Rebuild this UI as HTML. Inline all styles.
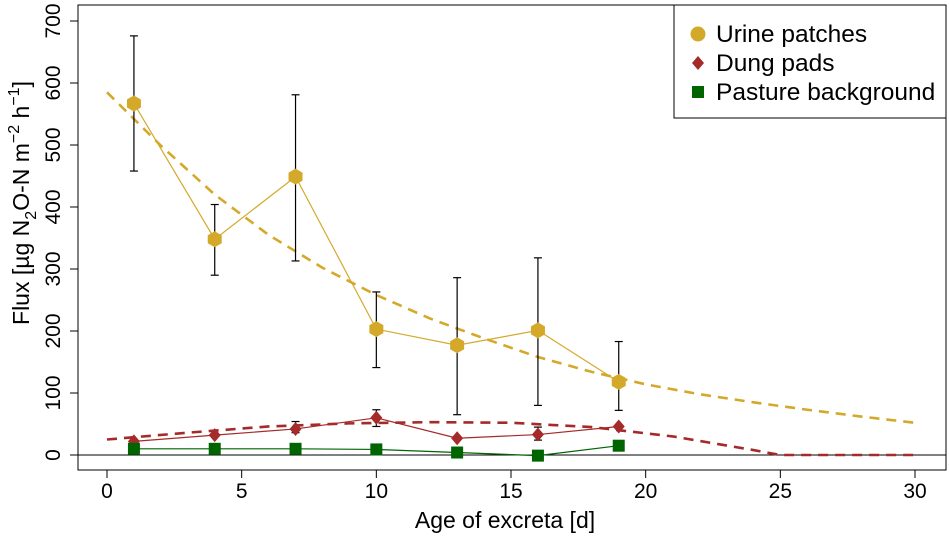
<!DOCTYPE html>
<html><head><meta charset="utf-8"><style>
html,body{margin:0;padding:0;background:#fff;}
svg text{font-family:"Liberation Sans",sans-serif;}
</style></head><body>
<svg id="chart" width="949" height="537" viewBox="0 0 949 537" xmlns="http://www.w3.org/2000/svg"></svg>
<script>
const days=[1,4,7,10,13,16,19];
const urine=[567,348,449,203,177,201,118];
const urineLo=[458,290,313,141,65,80,72];
const urineHi=[676,404,581,263,286,318,183];
const dung=[22,32,42,60,27,33,46];
const dungLo=[null,null,36,46,null,24,null];
const dungHi=[null,null,54,73,null,45,null];
const pasture=[10,10,10,9,4,-1,15];
const fitX=[0,2,4,6,8,10,12,14,16,18,20,22,24,26,28,30];
const urineFit=[585,499,420,355,302,258,220,188,158,134,114,98,85,73,62,52];
const dungFitX=[0,3,6,9,12,15,18,21,24,25,27,30];
const dungFit=[25,36,46,51,53,52,45,30,8,0,0,0];
const xTicks=[0,5,10,15,20,25,30];
const yTicks=[0,100,200,300,400,500,600,700];

const svg=document.getElementById('chart');
const NS='http://www.w3.org/2000/svg';
const X=v=>107+v*(915-107)/30;
const Y=v=>455-v*0.62;
function mk(tag,attrs,parent){const e=document.createElementNS(NS,tag);for(const k in attrs)e.setAttribute(k,attrs[k]);(parent||svg).appendChild(e);return e;}

let e=mk('rect',{x:78,y:5,width:868,height:465,fill:'none',stroke:'#000','stroke-width':1});


e=mk('line',{x1:78,x2:946,y1:Y(0),y2:Y(0),stroke:'#000','stroke-width':1});



const xg=mk('g',{});


xTicks.forEach(t=>{
  mk('line',{x1:X(t),x2:X(t),y1:470,y2:478,stroke:'#000'},xg);
  const tx=mk('text',{x:X(t),y:498,'font-size':21,'text-anchor':'middle'},xg);tx.textContent=t;
  
  
});
const yg=mk('g',{});


yTicks.forEach(t=>{
  mk('line',{x1:70,x2:78,y1:Y(t),y2:Y(t),stroke:'#000'},yg);
  const tx=mk('text',{x:0,y:0,'font-size':21,'text-anchor':'middle',transform:`translate(60,${Y(t)}) rotate(-90)`},yg);tx.textContent=t;
  
  
});
e=mk('text',{x:505,y:528,'font-size':23,'text-anchor':'middle'});e.textContent='Age of excreta [d]';


e=mk('text',{x:0,y:0,'font-size':23,'text-anchor':'middle',transform:'translate(29,203) rotate(-90)'});
e.innerHTML='Flux [µg N<tspan dy="7" font-size="16">2</tspan><tspan dy="-7">O-N m</tspan><tspan dy="-10" font-size="16">−2</tspan><tspan dy="10"> h</tspan><tspan dy="-10" font-size="16">−1</tspan><tspan dy="10">]</tspan>';



function poly(xs,ys,col,w,dash,name){
  const p=mk('polyline',{points:xs.map((x,i)=>X(x)+','+Y(ys[i])).join(' '),fill:'none',stroke:col,'stroke-width':w});
  if(dash)p.setAttribute('stroke-dasharray',dash);
  
  
}
poly(fitX,urineFit,'#d4a92a',2.6,'10,7','urine-fit-line');
poly(dungFitX,dungFit,'#a52a2a',2.6,'10,7','dung-fit-line');
poly(days,urine,'#d4a92a',1.2,null,'urine-line');
poly(days,dung,'#a52a2a',1.2,null,'dung-line');
poly(days,pasture,'#006400',1.2,null,'pasture-line');

function err(lo,hi,name){
  days.forEach((d,i)=>{
    if(lo[i]==null)return;
    const g=mk('g',{stroke:'#000','stroke-width':1.2});
    
    
    mk('line',{x1:X(d),x2:X(d),y1:Y(lo[i]),y2:Y(hi[i])},g);
    mk('line',{x1:X(d)-4,x2:X(d)+4,y1:Y(lo[i]),y2:Y(lo[i])},g);
    mk('line',{x1:X(d)-4,x2:X(d)+4,y1:Y(hi[i]),y2:Y(hi[i])},g);
  });
}
err(urineLo,urineHi,'urine-error-bar');
err(dungLo,dungHi,'dung-error-bar');

days.forEach((d,i)=>{
  let m=mk('polygon',{points:`${X(d)},${Y(urine[i])-8} ${X(d)+7},${Y(urine[i])-4} ${X(d)+7},${Y(urine[i])+4} ${X(d)},${Y(urine[i])+8} ${X(d)-7},${Y(urine[i])+4} ${X(d)-7},${Y(urine[i])-4}`,fill:'#d4a92a'});
  
  
  m=mk('polygon',{points:`${X(d)},${Y(dung[i])-7} ${X(d)+6},${Y(dung[i])} ${X(d)},${Y(dung[i])+7} ${X(d)-6},${Y(dung[i])}`,fill:'#a52a2a'});
  
  
  m=mk('rect',{x:X(d)-6,y:Y(pasture[i])-6,width:12,height:12,fill:'#006400'});
  
  
});

const lg=mk('g',{});


mk('rect',{x:674,y:5,width:272,height:113,fill:'#fff',stroke:'#000'},lg);
[['Urine patches','#d4a92a','hex'],['Dung pads','#a52a2a','dia'],['Pasture background','#006400','sq']].forEach((it,i)=>{
  const cy=34+i*29,cx=698;
  let m;
  if(it[2]=='hex')m=mk('circle',{cx,cy,r:7.5,fill:it[1]},lg);
  else if(it[2]=='dia')m=mk('polygon',{points:`${cx},${cy-7} ${cx+6},${cy} ${cx},${cy+7} ${cx-6},${cy}`,fill:it[1]},lg);
  else m=mk('rect',{x:cx-6,y:cy-6,width:12,height:12,fill:it[1]},lg);
  
  
  const t=mk('text',{x:716,y:cy+8,'font-size':24.5},lg);t.textContent=it[0];
  
  
});
</script>
</body></html>
